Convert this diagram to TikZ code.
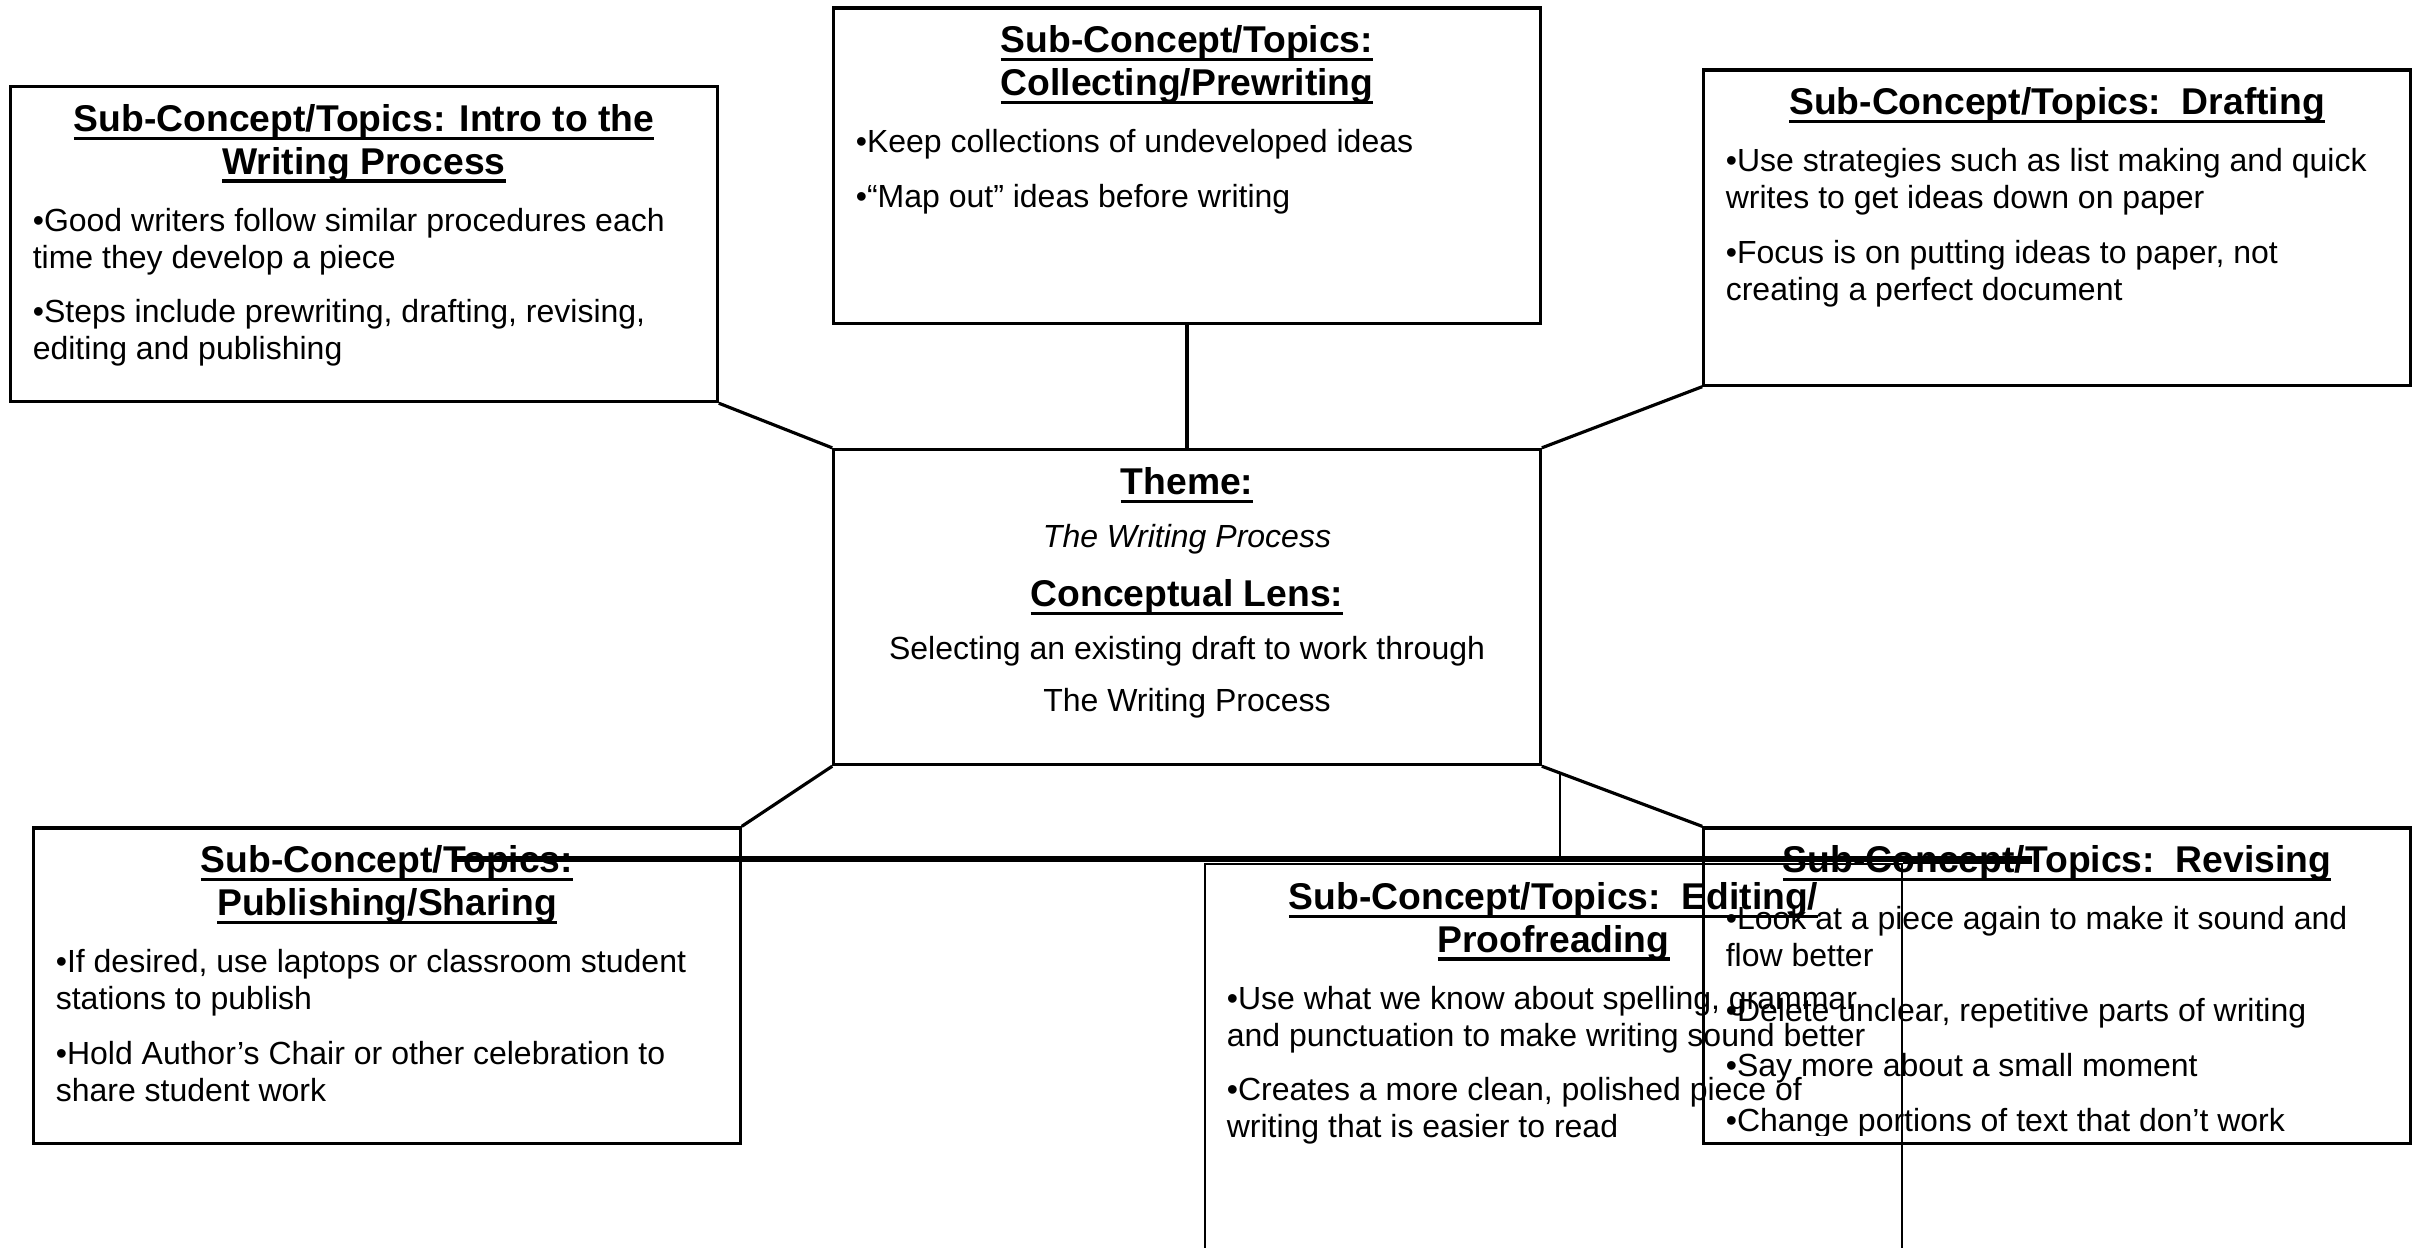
\documentclass[tikz,border=0pt]{standalone}
\usepackage{fontspec}
\setmainfont{Liberation Sans}
\usetikzlibrary{calc}
\newcommand{\ul}[1]{\setbox0\hbox{#1}\leavevmode\rlap{\rule[-2.4pt]{\wd0}{0.9pt}}\box0}
\newcommand{\ttlfont}{\fontsize{10.6pt}{12.2pt}\selectfont\bfseries}
\newcommand{\bodyfont}{\fontsize{9.1pt}{10.5pt}\selectfont\mdseries\upshape}
\newcommand{\subhead}[1]{\raggedright\spaceskip=0pt\xspaceskip=0pt{\centering\ttlfont\rule{0pt}{13pt}#1\par}\bodyfont\vspace{5.7pt}}
\newcommand{\nextpt}{\par\vspace{5.1pt}}

\begin{document}
\begin{tikzpicture}[x=0.01cm, y=-0.01cm,
	topic/.style={draw, line width=0.9pt, inner sep=0pt, minimum width=7.06cm, minimum height=3.15cm},
	txt/.style={anchor=north, inner sep=0pt, text width=6.62cm},
	link/.style={line width=0.9pt},
	hair/.style={line width=0.6pt}]
		%%%%% START %%%%%
		\useasboundingbox (0,0) rectangle (2422,1247);
		
		\node[topic] (intro) at (364,244) {};
		\node[topic] (coll) at (1187,165.5) {};
		\node[topic] (draft) at (2057,227.5) {};
		\node[topic] (cen) at (1187,607) {};
		\node[topic] (pub) at (387,985.5) {};
		\node[topic] (rev) at (2057,985.5) {};
		\node[topic, hair, minimum width=6.97cm, minimum height=5cm] (edit) at (1553.5,1114) {};
		
		\draw[link] (intro.south east) -- (cen.north west);
		\draw[link] (coll.south) -- (cen.north);
		\draw[link] (draft.south west) -- (cen.north east);
		\draw[link] (cen.south west) -- (pub.north east);
		\draw[link] (cen.south east) -- (rev.north west);
		
		\coordinate (strk-l) at (455,859);
		\coordinate (strk-r) at (2032,859);
		\coordinate (tick) at ($(cen.south east)!0.115!(rev.north west)$);
		\draw[hair] (tick) -- (tick |- strk-l);
		\draw[line width=1.5pt] (strk-l) -- (strk-r);
		\draw[hair] (edit.north east) -- (edit.north east -| strk-r);
		
		\node[txt] (intro-t) at (intro.north) {\subhead{\ul{Sub-Concept/Topics: Intro to the}\\\ul{Writing Process}}
			•Good writers follow similar procedures each\\time they develop a piece\nextpt
			•Steps include prewriting, drafting, revising,\\editing and publishing\par};
		
		\node[txt] (coll-t) at (coll.north) {\subhead{\ul{Sub-Concept/Topics:}\\\ul{Collecting/Prewriting}}
			•Keep collections of undeveloped ideas\nextpt
			•“Map out” ideas before writing\par};
		
		\node[txt] (draft-t) at (draft.north) {\subhead{\ul{Sub-Concept/Topics:\ \ Drafting}}
			•Use strategies such as list making and quick\\writes to get ideas down on paper\nextpt
			•Focus is on putting ideas to paper, not\\creating a perfect document\par};
		
		\node[txt] (cen-t) at (cen.north) {\centering\spaceskip=0pt\xspaceskip=0pt
			\ttlfont\rule{0pt}{13pt}\ul{Theme:}\par
			\bodyfont\itshape\vspace{4.6pt}The Writing Process\par
			\ttlfont\upshape\vspace{4.6pt}\ul{Conceptual Lens:}\par
			\bodyfont\vspace{4.6pt}Selecting an existing draft to work through\par
			\vspace{4.3pt}The Writing Process\par};
		
		\node[txt] (pub-t) at (pub.north) {\subhead{\ul{Sub-Concept/Topics:}\\\ul{Publishing/Sharing}}
			•If desired, use laptops or classroom student\\stations to publish\nextpt
			•Hold Author’s Chair or other celebration to\\share student work\par};
		
		\node[txt, text width=6.53cm] (edit-t) at (edit.north) {\subhead{\ul{Sub-Concept/Topics:\ \ Editing/}\\\ul{Proofreading}}
			•Use what we know about spelling, grammar\\and punctuation to make writing sound better\nextpt
			•Creates a more clean, polished piece of\\writing that is easier to read\par};
		
		\begin{scope}
			\clip (rev.north west) rectangle ([yshift=0.09cm]rev.south east);
			\node[txt] (rev-t) at (rev.north) {\subhead{\ul{Sub-Concept/Topics:\ \ Revising}}
				•Look at a piece again to make it sound and\\flow better\nextpt
				•Delete unclear, repetitive parts of writing\nextpt
				•Say more about a small moment\nextpt
				•Change portions of text that don’t work\par};
		\end{scope}
		%%%%% END %%%%%
\end{tikzpicture}
\end{document}
